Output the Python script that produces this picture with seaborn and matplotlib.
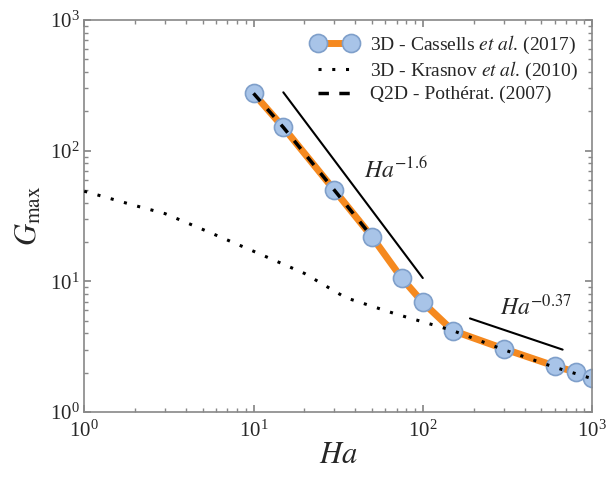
import numpy as np
import pandas as pd
import matplotlib
matplotlib.use("Agg")
import matplotlib.pyplot as plt
import seaborn as sns

sns.set_theme(style="ticks")
plt.rcParams["font.family"] = ["Liberation Serif", "DejaVu Serif"]
plt.rcParams["mathtext.fontset"] = "stix"

# Cassells et al. (2017), 3D
cassells_ha = [10, 15, 30, 50, 75, 100, 150, 300, 600, 800, 1000]
cassells_g = [275, 151, 50, 22, 10.6, 6.9, 4.2, 3.05, 2.25, 2.02, 1.82]

# Krasnov et al. (2010), 3D
krasnov_ha = [1, 2, 3, 5, 10, 20, 35, 70, 150, 300, 600, 1000]
krasnov_g = [49, 38, 33, 25, 17, 11.5, 7.5, 5.6, 4.2, 3.0, 2.2, 1.8]

# Potherat (2007), Q2D
q2d_ha = [10, 15, 30, 50]
q2d_g = [275, 151, 50, 22]

# reference slopes
slope1_ha = [15, 100]
slope1_g = [280, 10.6]
slope2_ha = [190, 670]
slope2_g = [5.2, 3.0]

fig = plt.figure(figsize=(6.06, 4.79), dpi=100)
ax = fig.add_axes([0.139, 0.140, 0.838, 0.818])

orange = "#f5891f"
blue = "#a8c4e8"
blue_edge = "#7f9fca"

df_c = pd.DataFrame({"Ha": cassells_ha, "G": cassells_g})
df_k = pd.DataFrame({"Ha": krasnov_ha, "G": krasnov_g})
df_q = pd.DataFrame({"Ha": q2d_ha, "G": q2d_g})

sns.lineplot(data=df_c, x="Ha", y="G", ax=ax, color=orange, linewidth=5,
             marker="o", markersize=13, markerfacecolor=blue,
             markeredgecolor=blue_edge, markeredgewidth=1.2,
             label="3D - Cassells $et\\ al$. (2017)", zorder=2)
sns.lineplot(data=df_k, x="Ha", y="G", ax=ax, color="black", linewidth=2.2,
             linestyle=(0, (1, 3.5)), label="3D - Krasnov $et\\ al$. (2010)", zorder=3)
sns.lineplot(data=df_q, x="Ha", y="G", ax=ax, color="black", linewidth=2.5,
             linestyle=(0, (3, 3)), label="Q2D - Pothérat. (2007)", zorder=3)

ax.plot(slope1_ha, slope1_g, color="black", linewidth=1.5)
ax.plot(slope2_ha, slope2_g, color="black", linewidth=1.5)
ax.text(69, 71, "$Ha^{-1.6}$", fontsize=17, ha="center", va="center")
ax.text(465, 6.3, "$Ha^{-0.37}$", fontsize=17, ha="center", va="center")

ax.set_xscale("log")
ax.set_yscale("log")
ax.set_xlim(1, 1000)
ax.set_ylim(1, 1000)
ax.set_xlabel("$Ha$", fontsize=22, labelpad=0)
ax.set_ylabel("$G_{\\max}$", fontsize=22, labelpad=4)

ax.tick_params(which="both", direction="in", top=True, right=True,
               color="#888888", labelsize=15)
ax.tick_params(axis="x", pad=6)
ax.tick_params(which="major", length=5)
ax.tick_params(which="minor", length=3)
for s in ax.spines.values():
    s.set_color("#888888")
    s.set_linewidth(1.2)

leg = ax.legend(loc="upper right", frameon=False, fontsize=14, numpoints=2,
                handlelength=2.3, handletextpad=0.7, borderaxespad=0.3,
                labelspacing=0.2)

fig.savefig("out.png", dpi=100, facecolor="white")
